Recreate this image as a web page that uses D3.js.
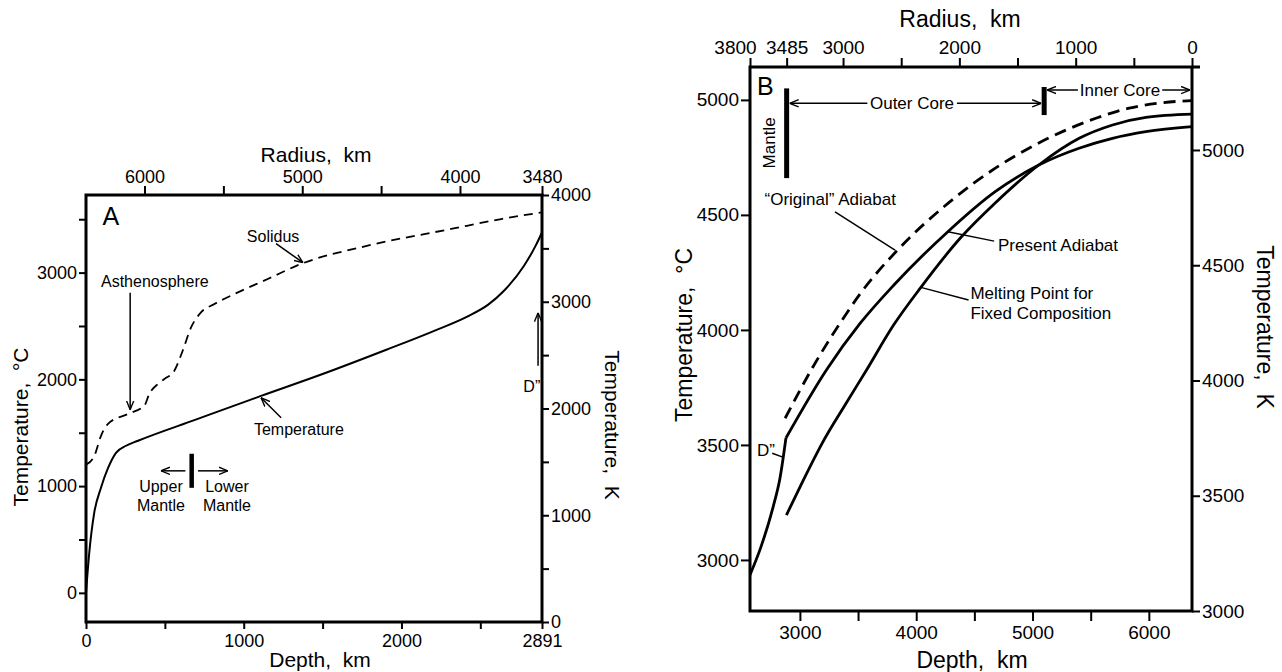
<!DOCTYPE html>
<html>
<head>
<meta charset="utf-8">
<script src="https://cdnjs.cloudflare.com/ajax/libs/d3/7.8.5/d3.min.js"></script>
<style>
  body { margin: 0; background: #fff; }
  svg text { font-family: "Liberation Sans", Arial, sans-serif; fill: #000; }
</style>
</head>
<body>
<svg id="chart" width="1282" height="672"></svg>
<script>
// ---- Panel A : whole mantle, depth (km) vs temperature (°C) ----
const temperatureA = [[0,0],[20,366],[51,740],[95,985],[140,1170],[190,1312],[254,1378],[330,1425],
  [700,1625],[1110,1845],[1500,2050],[1900,2275],[2200,2450],[2420,2590],[2550,2700],[2650,2830],
  [2775,3060],[2850,3250],[2891,3377]];
const solidusA = [[0,1200],[53,1284],[95,1471],[138,1581],[264,1675],[370,1753],[401,1862],[455,1956],
  [497,2003],[560,2081],[613,2268],[666,2486],[729,2627],[814,2706],[940,2799],[1152,2940],[1363,3081],
  [1786,3252],[2315,3409],[2632,3502],[2891,3564]];
const depthTicksA = [0,500,1000,1500,2000,2500,2891];
const depthLabelsA = [0,1000,2000,2891];
const radiusTicksA = [6000,5500,5000,4500,4000,3480];
const radiusLabelsA = [6000,5000,4000,3480];
const celsiusTicksA = [0,500,1000,1500,2000,2500,3000,3500];
const celsiusLabelsA = [0,1000,2000,3000];
const kelvinTicksA = [0,500,1000,1500,2000,2500,3000,3500,4000];
const kelvinLabelsA = [0,1000,2000,3000,4000];

// ---- Panel B : core, depth (km) vs temperature (°C) ----
const presentDppB = [[2571,2935],[2666,3058],[2770,3231],[2831,3362],[2880,3530]];
const presentAdiabatB = [[2880,3530],[3228,3826],[3519,4029],[3808,4195],[4272,4427],[4679,4601],
  [5054,4717],[5400,4790],[5687,4833],[5974,4862],[6371,4884]];
const originalAdiabatB = [[2873,3616],[3113,3840],[3346,4030],[3521,4159],[3841,4348],[4275,4551],
  [4680,4703],[4969,4790],[5257,4862],[5544,4920],[5831,4964],[6119,4988],[6371,4997]];
const meltingB = [[2884,3195],[3016,3333],[3191,3507],[3396,3680],[3573,3826],[3804,4020],[4040,4185],
  [4389,4405],[4677,4551],[5054,4717],[5401,4833],[5688,4891],[5975,4924],[6371,4938]];
const depthTicksB = [3000,3500,4000,4500,5000,5500,6000];
const depthLabelsB = [3000,4000,5000,6000];
const radiusTicksB = [3800,3485,3000,2500,2000,1500,1000,500,0];
const radiusLabelsB = [3800,3485,3000,2000,1000,0];
const celsiusTicksB = [3000,3500,4000,4500,5000];
const kelvinTicksB = [3000,3500,4000,4500,5000];

const svg = d3.select("#chart");

// open arrow head
svg.append("defs").append("marker")
    .attr("id", "arrow")
    .attr("viewBox", "0 0 10 10")
    .attr("refX", 10).attr("refY", 5)
    .attr("markerWidth", 9).attr("markerHeight", 9)
    .attr("markerUnits", "userSpaceOnUse")
    .attr("orient", "auto-start-reverse")
  .append("path")
    .attr("d", "M0,1L10,5L0,9")
    .attr("fill", "none")
    .attr("stroke", "#000")
    .attr("stroke-width", 1.5);

function drawAxis(axisFn, scale, ticks, labels, size, pad, fontSize, transform) {
  var axis = axisFn(scale).tickValues(ticks).tickSize(size).tickPadding(pad)
      .tickFormat(d => labels.includes(d) ? d : "");
  return svg.append("g")
      .attr("transform", transform)
      .call(axis)
      .call(g => g.select(".domain").remove())
      .call(g => g.selectAll("line").attr("stroke", "#000").attr("stroke-width", 2))
      .call(g => g.selectAll("text").style("font-size", fontSize + "px"));
}

function title(x, y, rot, size, txt) {
  svg.append("text")
      .attr("transform", "translate(" + x + "," + y + ") rotate(" + rot + ")")
      .attr("text-anchor", "middle")
      .style("font-size", size + "px")
      .style("white-space", "pre")
      .text(txt);
}

function label(x, y, size, txt, anchor) {
  svg.append("text")
      .attr("x", x).attr("y", y)
      .attr("text-anchor", anchor || "start")
      .style("font-size", size + "px")
      .text(txt);
}

function arrow(x1, y1, x2, y2, w) {
  svg.append("line")
      .attr("x1", x1).attr("y1", y1).attr("x2", x2).attr("y2", y2)
      .attr("stroke", "#000").attr("stroke-width", w || 1.5)
      .attr("marker-end", "url(#arrow)");
}

function leader(x1, y1, x2, y2, w) {
  svg.append("line")
      .attr("x1", x1).attr("y1", y1).attr("x2", x2).attr("y2", y2)
      .attr("stroke", "#000").attr("stroke-width", w || 1.5);
}

function curve(data, x, y, w, dash) {
  var line = d3.line().x(d => x(d[0])).y(d => y(d[1])).curve(d3.curveMonotoneX);
  svg.append("path")
      .datum(data)
      .attr("d", line)
      .attr("fill", "none")
      .attr("stroke", "#000")
      .attr("stroke-width", w)
      .attr("stroke-dasharray", dash || null);
}

// ================= Panel A =================
var xA = d3.scaleLinear().domain([0, 2891]).range([86, 542]);
var rA = d3.scaleLinear().domain([6371, 3480]).range([86, 542]);
var yA = d3.scaleLinear().domain([-273, 3727]).range([622, 195]);
var kA = d3.scaleLinear().domain([0, 4000]).range([622, 195]);

drawAxis(d3.axisBottom, xA, depthTicksA, depthLabelsA, 7, 5, 18, "translate(0,622)");
drawAxis(d3.axisTop, rA, radiusTicksA, radiusLabelsA, 9, 3, 18, "translate(0,195)");
drawAxis(d3.axisLeft, yA, celsiusTicksA, celsiusLabelsA, 7, 2, 18, "translate(86,0)");
drawAxis(d3.axisRight, kA, kelvinTicksA, kelvinLabelsA, 7, 2, 18, "translate(542,0)");

svg.append("rect")
    .attr("x", xA(0)).attr("y", yA(3727))
    .attr("width", xA(2891) - xA(0)).attr("height", yA(-273) - yA(3727))
    .attr("fill", "none").attr("stroke", "#000").attr("stroke-width", 3);

curve(solidusA, xA, yA, 1.8, "9,6");
curve(temperatureA, xA, yA, 2);

title(316, 162, 0, 21, "Radius,  km");
title(320, 667, 0, 21, "Depth,  km");
title(28, 427, -90, 21, "Temperature,  °C");
title(605, 425, 90, 21, "Temperature,  K");

label(xA(105), yA(3449), 25, "A");
label(xA(1186), yA(3290), 16, "Solidus", "middle");
arrow(xA(1205), yA(3271), xA(1376), yA(3093));
label(xA(95), yA(2868), 16, "Asthenosphere");
arrow(xA(280), yA(2812), xA(280), yA(1715));
label(xA(1065), yA(1481), 16, "Temperature");
arrow(xA(1237), yA(1640), xA(1110), yA(1828));

leader(xA(670), yA(1303), xA(670), yA(984), 4.5);
arrow(xA(630), yA(1143), xA(475), yA(1143));
arrow(xA(710), yA(1143), xA(900), yA(1143));
label(xA(475), yA(946), 16, "Upper", "middle");
label(xA(475), yA(768), 16, "Mantle", "middle");
label(xA(894), yA(946), 16, "Lower", "middle");
label(xA(894), yA(768), 16, "Mantle", "middle");

label(xA(2880), yA(1884), 16, "D\u201D", "end");
arrow(xA(2866), yA(2127), xA(2866), yA(2624));

// ================= Panel B =================
var xB = d3.scaleLinear().domain([2571, 6371]).range([750, 1192]);
var rB = d3.scaleLinear().domain([3800, 0]).range([750, 1192]);
var yB = d3.scaleLinear().domain([2778, 5143]).range([611, 67]);
var kB = d3.scaleLinear().domain([3000, 5360]).range([611, 67]);

drawAxis(d3.axisBottom, xB, depthTicksB, depthLabelsB, 10, 5, 19, "translate(0,611)");
drawAxis(d3.axisTop, rB, radiusTicksB, radiusLabelsB, 9, 4, 19, "translate(0,67)")
    .selectAll(".tick").filter(d => d === 3800).select("text").attr("dx", -15);
drawAxis(d3.axisLeft, yB, celsiusTicksB, celsiusTicksB, 9, 2, 19, "translate(750,0)");
drawAxis(d3.axisRight, kB, kelvinTicksB, kelvinTicksB, 8, 2, 19, "translate(1192,0)");

svg.append("rect")
    .attr("x", xB(2571)).attr("y", yB(5143))
    .attr("width", xB(6371) - xB(2571)).attr("height", yB(2778) - yB(5143))
    .attr("fill", "none").attr("stroke", "#000").attr("stroke-width", 3);
// top border runs a little past the right axis
leader(xB(6371), yB(5143), xB(6371) + 8, yB(5143), 3);

curve(originalAdiabatB, xB, yB, 2.8, "12,7");
curve(presentDppB, xB, yB, 2.8);
curve(presentAdiabatB, xB, yB, 2.8);
curve(meltingB, xB, yB, 2.8);

title(960, 27, 0, 23, "Radius,  km");
title(972, 668, 0, 23, "Depth,  km");
title(692, 335, -90, 23, "Temperature,  °C");
title(1257, 327, 90, 23, "Temperature,  K");

label(xB(2631), yB(5021), 25, "B");
title(xB(2734) + 6, yB(4813), -90, 17, "Mantle");
leader(xB(2886), yB(5050), xB(2886), yB(4660), 5);
leader(xB(5100), yB(5056), xB(5100), yB(4934), 5);

// Outer core span
label(xB(3964), yB(4985) + 6, 17, "Outer Core", "middle");
arrow(xB(3580), yB(4985), xB(2886) + 3, yB(4985));
arrow(xB(4350), yB(4985), xB(5100) - 3, yB(4985));
// Inner core span
label(xB(5752), yB(5043) + 6, 17, "Inner Core", "middle");
arrow(xB(5390), yB(5043), xB(5100) + 3, yB(5043));
arrow(xB(6115), yB(5043), xB(6371) - 2, yB(5043));

label(xB(2696), yB(4543), 17, "\u201COriginal\u201D Adiabat");
leader(xB(3302), yB(4513), xB(3818), yB(4347));
label(xB(4703), yB(4343), 17, "Present Adiabat");
leader(xB(4272), yB(4427), xB(4670), yB(4386));
label(xB(4466), yB(4134), 17, "Melting Point for");
label(xB(4466), yB(4047), 17, "Fixed Composition");
leader(xB(4040), yB(4185), xB(4450), yB(4130));
label(xB(2631), yB(3452), 17, "D\u201D");
leader(xB(2762), yB(3464), xB(2853), yB(3447));
</script>
</body>
</html>
